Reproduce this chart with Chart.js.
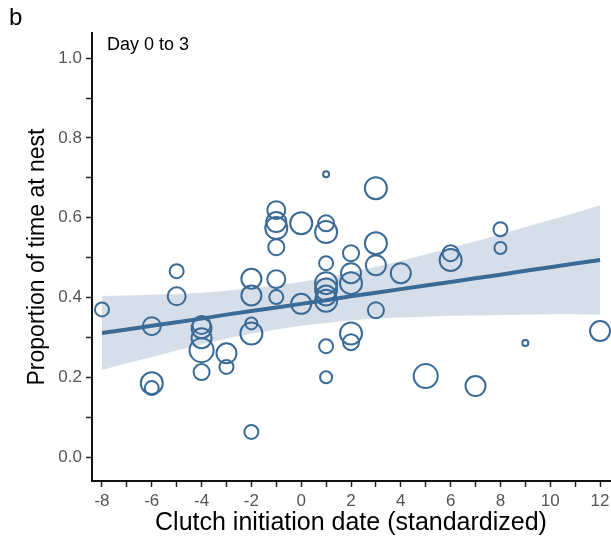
<!DOCTYPE html>
<html>
<head>
<meta charset="utf-8">
<script src="https://cdn.jsdelivr.net/npm/chart.js@4/dist/chart.umd.min.js"></script>
<style>
  body { margin: 0; background: #fff; }
  #wrap { position: relative; width: 611px; height: 546px; font-family: "Liberation Sans", Arial, sans-serif; }
  #panel { position: absolute; left: 9px; top: 3px; font-size: 24px; color: #000; }
  #subtitle { position: absolute; left: 107px; top: 34px; font-size: 18px; color: #000; }
</style>
</head>
<body>
<div id="wrap">
  <canvas id="chart" width="611" height="546"></canvas>
  <div id="panel">b</div>
  <div id="subtitle">Day 0 to 3</div>
</div>
<script>
// ─── DATA ─────────────────────────────────────────────────────────────────────
// one entry per nest: clutch date (standardized), proportion at nest, bubble radius
const nestDate = [
  -8, -6, -6, -6, -5, -5, -4, -4, -4, -4, -4, -3, -3,
  -2, -2, -2, -2, -2, -1, -1, -1, -1, -1, -1, 0, 0,
  1, 1, 1, 1, 1, 1, 1, 1, 1, 1,
  2, 2, 2, 2, 2, 3, 3, 3, 3, 4, 5, 6, 6, 7, 8, 8, 9, 12
]
const nestProp = [
  0.370, 0.328, 0.185, 0.173, 0.466, 0.403, 0.331, 0.323, 0.298, 0.268, 0.213, 0.260, 0.226,
  0.447, 0.405, 0.335, 0.310, 0.063, 0.619, 0.589, 0.574, 0.526, 0.446, 0.401, 0.586, 0.384,
  0.709, 0.586, 0.564, 0.486, 0.436, 0.420, 0.405, 0.392, 0.278, 0.200,
  0.511, 0.461, 0.436, 0.310, 0.288, 0.674, 0.536, 0.481, 0.368, 0.461, 0.203, 0.511, 0.494,
  0.178, 0.571, 0.524, 0.286, 0.316
]
const nestWeight = [
  7, 9, 11, 7, 7, 9, 9, 10, 10, 12, 8, 10, 7,
  10, 10, 6, 11, 7, 9, 10, 11, 8, 9, 7, 11, 10,
  3, 8, 11, 7, 11, 11, 10, 11, 7, 6,
  8, 10, 11, 11, 8, 11, 11, 10, 8, 10, 12, 8, 11, 10, 7, 6, 3, 10
]

// fitted line and confidence band, read at each integer date
const fitDate  = [-8, -7, -6, -5, -4, -3, -2, -1, 0, 1, 2, 3, 4, 5, 6, 7, 8, 9, 10, 11, 12]
const fitValue = [0.311, 0.320, 0.329, 0.338, 0.347, 0.357, 0.366, 0.375, 0.384, 0.393, 0.403,
                  0.412, 0.421, 0.430, 0.439, 0.448, 0.457, 0.467, 0.476, 0.485, 0.494]
const fitUpper = [0.404, 0.405, 0.407, 0.409, 0.412, 0.417, 0.423, 0.430, 0.439, 0.450, 0.463,
                  0.477, 0.492, 0.508, 0.524, 0.541, 0.558, 0.577, 0.594, 0.612, 0.631]
const fitLower = [0.218, 0.235, 0.251, 0.267, 0.282, 0.297, 0.309, 0.320, 0.329, 0.336, 0.343,
                  0.347, 0.350, 0.352, 0.354, 0.355, 0.356, 0.357, 0.358, 0.358, 0.357]

// ─── STYLE ────────────────────────────────────────────────────────────────────
const BLUE   = "#3a6a96"
const BAND   = "rgba(200,212,225,0.75)"
const FONT   = "'Liberation Sans', Arial, sans-serif"
const TICKCL = "#555"

// bubbles would otherwise push the plot area in from the right edge
Chart.BubbleController.prototype.getMaxOverflow = function () { return 0 }

const toXY = (xs, ys) => xs.map((x, i) => ({ x, y: ys[i] }))

const bubbles = nestDate.map((x, i) => ({ x, y: nestProp[i], r: nestWeight[i] }))

const axisCommon = {
  type: "linear",
  border: { display: true, color: "#111", width: 2 },
  grid:   { drawOnChartArea: false, drawTicks: true, tickLength: 6, tickColor: "#222", tickWidth: 1.5 },
}

new Chart(document.getElementById("chart"), {
  type: "bubble",
  data: {
    datasets: [
      {
        type: "line",
        data: toXY(fitDate, fitValue),
        borderColor: BLUE,
        borderWidth: 4,
        pointRadius: 0,
        fill: false,
        order: 0,
      },
      {
        data: bubbles,
        backgroundColor: "rgba(0,0,0,0)",
        borderColor: BLUE,
        borderWidth: 2,
        hoverBorderWidth: 2,
        clip: false,
        order: 1,
      },
      {
        type: "line",
        data: toXY(fitDate, fitUpper),
        borderWidth: 0,
        borderColor: "rgba(0,0,0,0)",
        backgroundColor: BAND,
        pointRadius: 0,
        fill: "+1",
        order: 2,
      },
      {
        type: "line",
        data: toXY(fitDate, fitLower),
        borderWidth: 0,
        borderColor: "rgba(0,0,0,0)",
        pointRadius: 0,
        fill: false,
        order: 3,
      },
    ],
  },
  options: {
    responsive: false,
    animation: false,
    layout: { padding: { top: 33, right: 1, left: 0, bottom: 0 } },
    plugins: {
      legend:  { display: false },
      tooltip: { enabled: false },
    },
    scales: {
      x: {
        ...axisCommon,
        min: -8.4,
        max: 12.4,
        // fixed box; drop the extra room Chart.js keeps for the edge labels
        afterFit: s => { s.height = 65; s.paddingLeft = 0; s.paddingRight = 0 },
        ticks: {
          stepSize: 1,
          includeBounds: false,
          color: TICKCL,
          padding: 4,
          font: { family: FONT, size: 17 },
          callback: v => (v % 2 === 0 ? String(v) : ""),
        },
        title: {
          display: true,
          text: "Clutch initiation date (standardized)",
          color: "#000",
          font: { family: FONT, size: 25 },
          padding: { top: 0, bottom: 8 },
        },
      },
      y: {
        ...axisCommon,
        min: -0.06,
        max: 1.063,
        afterFit: s => { s.width = 92; s.paddingTop = 0; s.paddingBottom = 0 },
        ticks: {
          stepSize: 0.1,
          includeBounds: false,
          color: TICKCL,
          padding: 4,
          font: { family: FONT, size: 17 },
          callback: v => {
            const k = Math.round(v * 10)
            return k % 2 === 0 ? (k / 10).toFixed(1) : ""
          },
        },
        title: {
          display: true,
          text: "Proportion of time at nest",
          color: "#000",
          font: { family: FONT, size: 23 },
          padding: { top: 24, bottom: 0 },
        },
      },
    },
  },
})
</script>
</body>
</html>
